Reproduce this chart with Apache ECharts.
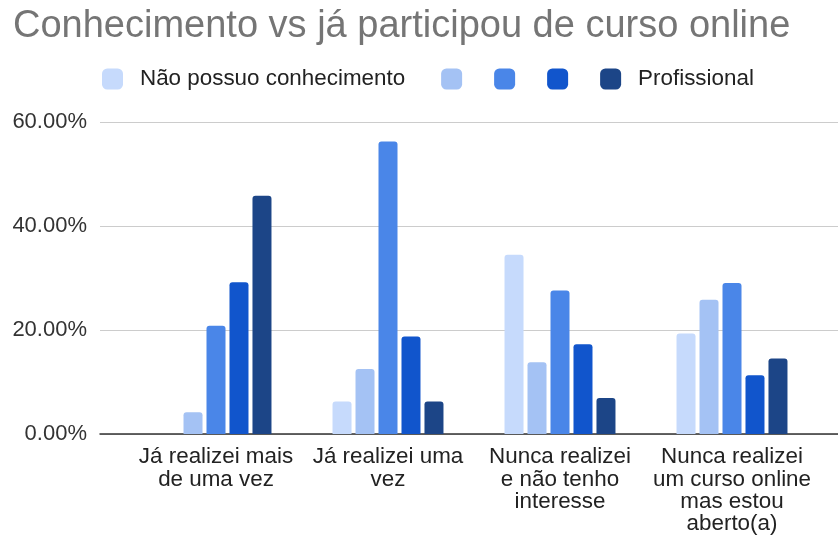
<!DOCTYPE html>
<html>
<head>
<meta charset="utf-8">
<script src="https://cdn.jsdelivr.net/npm/echarts@6/dist/echarts.min.js"></script>
<style>
  html, body { margin: 0; padding: 0; background: #ffffff; }
  #chart { width: 838px; height: 535px; }
</style>
</head>
<body>
<div id="chart"></div>
<script>
const titleText = 'Conhecimento vs já participou de curso online';
const categories = [
  'Já realizei mais\nde uma vez',
  'Já realizei uma\nvez',
  'Nunca realizei\ne não tenho\ninteresse',
  'Nunca realizei\num curso online\nmas estou\naberto(a)'
];
const seriesNames = ['Não possuo conhecimento', '\u200b', '\u200b\u200b', '\u200b\u200b\u200b', 'Profissional'];
const naoPossuo = [0, 6.25, 34.48, 19.35];
const nivel2 = [4.17, 12.5, 13.79, 25.81];
const nivel3 = [20.83, 56.25, 27.59, 29.03];
const nivel4 = [29.17, 18.75, 17.24, 11.29];
const profissional = [45.83, 6.25, 6.9, 14.52];
const yTicks = [0, 20, 40, 60];

const seriesValues = [naoPossuo, nivel2, nivel3, nivel4, profissional];
const colors = ['#c6dafc', '#a4c2f4', '#4a86e8', '#1155cc', '#1c4587'];
const FONT = '"Liberation Sans", Arial, sans-serif';

const legendPads = [[0, 36, 0, 12], [0, 27, 0, 0], [0, 27, 0, 0], [0, 27, 0, 0], [0, 0, 0, 12]];

const chart = echarts.init(document.getElementById('chart'), null, { renderer: 'canvas' });
chart.setOption({
  animation: false,
  backgroundColor: '#ffffff',
  title: {
    text: titleText,
    left: 8,
    top: 3,
    textStyle: { fontFamily: FONT, fontSize: 38, fontWeight: 'normal', color: '#757575' }
  },
  legend: {
    left: 102,
    top: 68,
    padding: 0,
    itemWidth: 21,
    itemHeight: 21,
    itemGap: 0,
    icon: 'roundRect',
    textStyle: { fontFamily: FONT, fontSize: 22.4, color: '#222222', backgroundColor: 'rgba(0,0,0,0)' },
    data: seriesNames.map((n, i) => ({ name: n, textStyle: { padding: legendPads[i] } }))
  },
  grid: [
    { left: 130, right: 20, top: 122, bottom: 101, containLabel: false, outerBoundsMode: 'none' },
    { left: 100, right: 0, top: 122, bottom: 101, containLabel: false, outerBoundsMode: 'none' }
  ],
  xAxis: [
    {
      type: 'category', gridIndex: 0, data: categories,
      axisLine: { show: false }, axisTick: { show: false },
      axisLabel: { fontFamily: FONT, fontSize: 22.4, color: '#222222', lineHeight: 22.3, margin: 12, interval: 0 }
    },
    {
      type: 'value', gridIndex: 1, min: 0, max: 1,
      axisLine: { show: true, onZero: true, lineStyle: { color: '#333333', width: 1.5 } },
      axisTick: { show: false }, axisLabel: { show: false }, splitLine: { show: false }
    }
  ],
  yAxis: [
    {
      type: 'value', gridIndex: 0, min: yTicks[0], max: yTicks[yTicks.length - 1], interval: 20,
      show: false, splitLine: { show: false }
    },
    {
      type: 'value', gridIndex: 1, min: yTicks[0], max: yTicks[yTicks.length - 1], interval: 20,
      axisLine: { show: false }, axisTick: { show: false },
      axisLabel: { fontFamily: FONT, fontSize: 22, color: '#333333', margin: 13, formatter: v => v.toFixed(2) + '%' },
      splitLine: { show: true, lineStyle: { color: '#cccccc', width: 1 } }
    }
  ],
  series: seriesNames.map((n, i) => ({
    name: n,
    type: 'bar',
    xAxisIndex: 0,
    yAxisIndex: 0,
    data: seriesValues[i],
    barWidth: 19,
    barGap: '21%',
    itemStyle: { color: colors[i], borderRadius: [3, 3, 0, 0] }
  }))
});
</script>
</body>
</html>
